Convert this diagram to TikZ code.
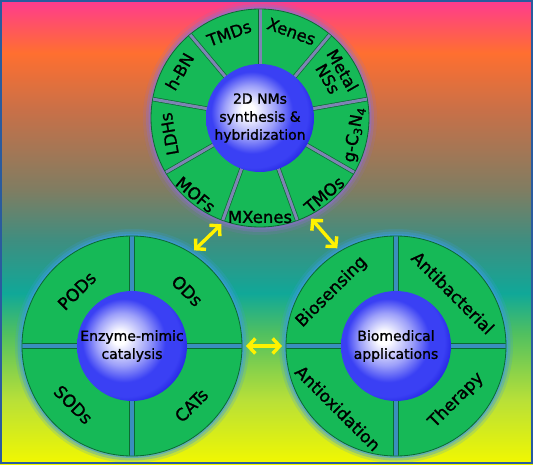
\documentclass[tikz,border=0pt]{standalone}
\usepackage{fontspec}
\setmainfont{DejaVu Sans}
\newfontfamily\labelfont{DejaVu Sans}[FakeBold=1.2]
\usetikzlibrary{calc,arrows.meta}
\definecolor{segfill}{HTML}{16B957}
\definecolor{segline}{HTML}{0B6A32}
\definecolor{gaptop}{HTML}{7E84B4}
\definecolor{gapbot}{HTML}{3A8EBE}
\definecolor{glowtop}{HTML}{8C6FD0}
\definecolor{glowbot}{HTML}{3C9AE0}
\definecolor{arrowc}{HTML}{FFF200}
\definecolor{framec}{HTML}{2A5B9E}
\definecolor{sphc}{HTML}{3A40F4}
\definecolor{sphd}{HTML}{1414D8}
\definecolor{bgA}{HTML}{F2F800}
\definecolor{bgB}{HTML}{B8E038}
\definecolor{bgC}{HTML}{50C060}
\definecolor{bgD}{HTML}{10A898}
\definecolor{bgE}{HTML}{3E8E80}
\definecolor{bgF}{HTML}{7F7D62}
\definecolor{bgG}{HTML}{C87048}
\definecolor{bgH}{HTML}{FF6F30}
\definecolor{bgI}{HTML}{FF3A90}
\pgfdeclareradialshading{bluesphere}{\pgfpoint{-6bp}{4bp}}{color(0bp)=(white); color(3bp)=(white); color(12bp)=(sphc!50!white); color(19bp)=(sphc); color(25bp)=(sphc); color(31bp)=(sphd); color(50bp)=(sphd)}
\pgfdeclareverticalshading{bgshade}{100bp}{color(0bp)=(bgA); color(25bp)=(bgA); color(31.9bp)=(bgB); color(39.1bp)=(bgC); color(43.4bp)=(bgD); color(49.1bp)=(bgE); color(54.5bp)=(bgF); color(63.1bp)=(bgG); color(69.3bp)=(bgH); color(75bp)=(bgI); color(100bp)=(bgI)}

\begin{document}
\begin{tikzpicture}[x=1pt,y=1pt,
  ring/.style={circle,inner sep=0pt,outer sep=4pt,minimum size=#1,fill=segfill,draw=segline,line width=.8pt},
  sphere/.style={circle,inner sep=0pt,minimum size=#1,shading=bluesphere,align=center,font=\labelfont\fontsize{14}{18}\selectfont},
  seglabel/.style={align=center,inner sep=0pt,font=\labelfont\fontsize{#1}{17}\selectfont},
  gapline/.style={draw=segline,line width=.7pt,double=#1},
  link/.style={arrowc,line width=3.4pt,{Straight Barb[length=7pt,width=15pt]}-{Straight Barb[length=7pt,width=15pt]}}]
\useasboundingbox (0,0) rectangle (533,464);
\shade[shading=bgshade] (0,0) rectangle (533,464);
\path (260,346) coordinate (T) (132,118) coordinate (L) (396,118) coordinate (R);
\foreach \w/\o in {8/.15,5/.3,2.5/.5} \fill[glowtop,opacity=\o] (T) circle (109+\w);
\foreach \c in {L,R} \foreach \w/\o in {7/.2,4.5/.35,2/.55} \fill[glowbot,opacity=\o] (\c) circle (110+\w);
\node[ring=218pt] (ring2d) at (T) {};
\node[ring=220pt] (ringenz) at (L) {};
\node[ring=220pt] (ringbio) at (R) {};
\begin{scope}
\clip (T) circle (108.6);
\foreach \a in {90,50,...,-230} \draw[gapline=gaptop,double distance=3pt] (T) -- ++(\a:112);
\end{scope}
\foreach \c in {L,R} {
  \begin{scope}
  \clip (\c) circle (109.6);
  \draw[gapline=gapbot,double distance=4.6pt] ($(\c)+(-112,0)$) -- ($(\c)+(112,0)$);
  \draw[gapline=gapbot,double distance=4.6pt] ($(\c)+(0,-112)$) -- ($(\c)+(0,112)$);
  \end{scope}
}
\foreach \a/\r/\d/\t [count=\i] in {110/20/90/TMDs,70/-20/92/Xenes,30/-60/87/{Metal\\NSs},-10/80/96/{g-C\textsubscript{3}N\textsubscript{4}},-50/40/100/TMOs,-90/0/99/MXenes,-130/-40/100/MOFs,-170/100/92/LDHs,150/60/93/h-BN}
  \node[seglabel=16.5,rotate=\r] (top\i) at ($(T)+(\a:\d)$) {\t};
\foreach \a/\r/\d/\t [count=\i] in {135/45/78/PODs,45/-45/78/ODs,-135/-45/83/SODs,-45/45/84/CATs}
  \node[seglabel=17,rotate=\r] (enz\i) at ($(L)+(\a:\d)$) {\t};
\foreach \a/\r/\d/\t [count=\i] in {140/45/84/Biosensing,43/-45/78/Antibacterial,-133/-45/85/Antioxidation,-42/45/81/Therapy}
  \node[seglabel=17,rotate=\r] (bio\i) at ($(R)+(\a:\d)$) {\t};
\node[sphere=108pt] (nms) at (T) {2D NMs\\synthesis \&\\hybridization};
\node[sphere=110pt] (enz) at (L) {Enzyme-mimic\\catalysis};
\node[sphere=110pt] (bio) at (R) {Biomedical\\applications};
\draw[link] (ring2d.-110) -- (ringenz.57);
\draw[link] (ring2d.-63) -- (ringbio.121);
\draw[link] (ringenz.0) -- (ringbio.180);
\draw[framec,line width=2pt] (1,1) rectangle (532,463);
\end{tikzpicture}
\end{document}
